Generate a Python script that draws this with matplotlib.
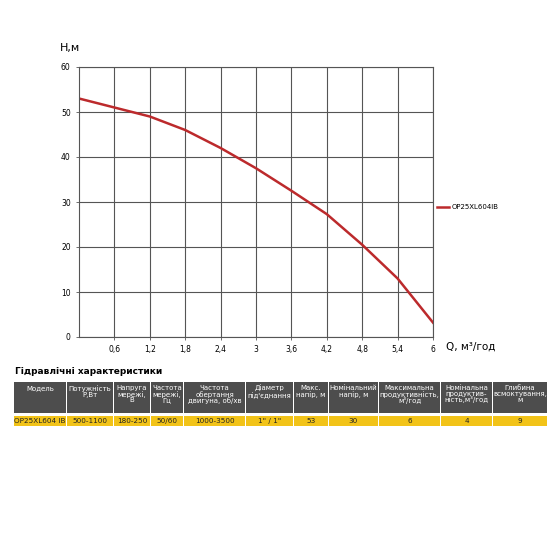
import matplotlib
matplotlib.use('Agg')
import matplotlib.pyplot as plt
from matplotlib.patches import Rectangle

# performance curve
q = [0, 0.6, 1.2, 1.8, 2.4, 3.0, 3.6, 4.2, 4.8, 5.4, 6.0]
h = [53, 51, 49, 46, 42, 37.5, 32.5, 27.3, 20.5, 13, 3.2]
model = 'OP25XL604IB'

x_ticks = [0.6, 1.2, 1.8, 2.4, 3.0, 3.6, 4.2, 4.8, 5.4, 6.0]
x_tick_labels = ['0,6', '1,2', '1,8', '2,4', '3', '3,6', '4,2', '4,8', '5,4', '6']
y_ticks = [0, 10, 20, 30, 40, 50, 60]

# table
table_title = 'Гідравлічні характеристики'
headers = ['Модель', 'Потужність\nР,Вт', 'Напруга\nмережі,\nВ', 'Частота\nмережі,\nГц',
           'Частота\nобертання\nдвигуна, об/хв', 'Діаметр\nпід\'єднання', 'Макс.\nнапір, м',
           'Номінальний\nнапір, м', 'Максимальна\nпродуктивність,\nм³/год',
           'Номінальна\nпродуктив-\nність,м³/год', 'Глибина\nвсмоктування,\nм']
row = ['OP25XL604 IB', '500-1100', '180-250', '50/60', '1000-3500', '1" / 1"',
       '53', '30', '6', '4', '9']
col_edges = [14, 67, 114, 151, 184, 246, 294, 329, 379, 441, 493, 548]

W = H = 560
fig = plt.figure(figsize=(5.6, 5.6), dpi=100)
ax = fig.add_axes([79 / W, 1 - 337 / H, (433 - 79) / W, (337 - 67) / H])

ax.plot(q, h, color='#bc2a2c', lw=1.8, label=model)
ax.set_xlim(0, 6)
ax.set_ylim(0, 60)
ax.set_xticks(x_ticks)
ax.set_xticklabels(x_tick_labels)
ax.set_yticks(y_ticks)
ax.tick_params(labelsize=5.5, length=2, width=0.6, color='#555555', pad=4)
ax.grid(True, color='#555555', lw=0.8)
for s in ax.spines.values():
    s.set_color('#555555')
    s.set_linewidth(0.8)
ax.set_axisbelow(True)

fig.text(60 / W, 1 - 48 / H, 'Н,м', fontsize=8, ha='left', va='center')
fig.text(446 / W, 1 - 347 / H, 'Q, м³/год', fontsize=7.5, ha='left', va='center')
ax.legend(loc='center left', bbox_to_anchor=(0.995, 0.48), frameon=False,
          fontsize=5, handlelength=1.6, handletextpad=0.5)

# table drawn in figure pixels
fig.text(15 / W, 1 - 372 / H, table_title, fontsize=6.5, fontweight='bold',
         ha='left', va='center')
head_top, head_bot = 382, 413
row_top, row_bot = 416, 426
for i in range(len(headers)):
    x0 = col_edges[i]
    x1 = col_edges[i + 1] - 1
    fig.patches.append(Rectangle((x0 / W, 1 - head_bot / H), (x1 - x0) / W,
                                 (head_bot - head_top) / H, transform=fig.transFigure,
                                 facecolor='#4d4d4d', edgecolor='none'))
    fig.patches.append(Rectangle((x0 / W, 1 - row_bot / H), (x1 - x0) / W,
                                 (row_bot - row_top) / H, transform=fig.transFigure,
                                 facecolor='#f2c318', edgecolor='none'))
    xc = (x0 + x1) / 2 / W
    fig.text(xc, 1 - (head_top + 3) / H, headers[i], fontsize=5, color='white',
             ha='center', va='top', linespacing=0.95)
    fig.text(xc, 1 - (row_top + row_bot) / 2 / H, row[i], fontsize=5.2, color='#222222',
             ha='center', va='center')

fig.savefig('out.png', dpi=100)
